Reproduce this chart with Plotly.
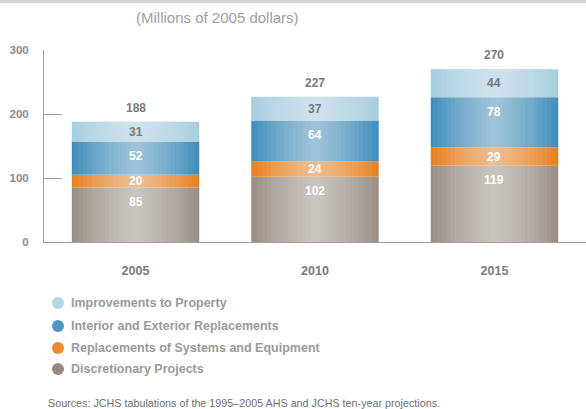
import plotly.graph_objects as go

years = ["2005", "2010", "2015"]
discretionary = [85, 102, 119]
systems = [20, 24, 29]
interior_exterior = [52, 64, 78]
improvements = [31, 37, 44]
totals = [188, 227, 270]

series_names = [
    "Improvements to Property",
    "Interior and Exterior Replacements",
    "Replacements of Systems and Equipment",
    "Discretionary Projects",
]
# edge tones of each segment; the centre is brightened by the sheen layers
edge_colors = {
    "Improvements to Property": "#a6cde0",
    "Interior and Exterior Replacements": "#3d8cba",
    "Replacements of Systems and Equipment": "#e67f1e",
    "Discretionary Projects": "#998e85",
}
legend_colors = {
    "Improvements to Property": "#b4d6e6",
    "Interior and Exterior Replacements": "#4a97c2",
    "Replacements of Systems and Equipment": "#ec8a30",
    "Discretionary Projects": "#968b82",
}

FONT = "Liberation Sans"
W, H = 586, 409
L, R, T, B = 44, 0, 50, 167
PW, PH = W - L - R, H - T - B
BAR_W = 0.71


def px_x(px):
    return (px - L) / PW


def px_y(py):
    return (H - B - py) / PH


fig = go.Figure()
annotations = []

stack = [
    ("Discretionary Projects", discretionary, "#ffffff", "top"),
    ("Replacements of Systems and Equipment", systems, "#ffffff", "mid"),
    ("Interior and Exterior Replacements", interior_exterior, "#ffffff", "top"),
    ("Improvements to Property", improvements, "#7a7a7a", "mid"),
]
base = [0] * len(years)
for name, vals, tcol, anchor in stack:
    fig.add_trace(go.Bar(
        x=list(range(len(years))), y=vals, base=list(base), name=name,
        width=BAR_W, showlegend=False,
        marker=dict(color=edge_colors[name], line=dict(width=0)),
        hoverinfo="skip",
    ))
    for i, v in enumerate(vals):
        if anchor == "top":
            y, shift = base[i] + v, -14.5
        else:
            y, shift = base[i] + v / 2, 0
        annotations.append(dict(
            x=i, y=y, xref="x", yref="y", text=str(v), showarrow=False,
            yanchor="middle", yshift=shift,
            font=dict(family=FONT, size=12, color=tcol, weight="bold"),
        ))
    base = [b + v for b, v in zip(base, vals)]

# soft horizontal sheen over each full column
n_layers = 14
for k in range(n_layers):
    fig.add_trace(go.Bar(
        x=list(range(len(years))), y=totals, base=0,
        width=BAR_W * (n_layers - k) / (n_layers + 0.5),
        marker=dict(color="rgba(255,255,255,0.05)", line=dict(width=0)),
        showlegend=False, hoverinfo="skip",
    ))

# totals above each stack
for i, tot in enumerate(totals):
    annotations.append(dict(
        x=i, y=tot, xref="x", yref="y", text=str(tot), showarrow=False,
        yanchor="middle", yshift=14,
        font=dict(family=FONT, size=12, color="#7a7a7a", weight="bold"),
    ))

# legend: circles with labels
shapes = [dict(type="rect", xref="paper", yref="paper",
               x0=px_x(0), x1=1.0, y0=px_y(3), y1=px_y(-5),
               fillcolor="#d4d4d4", line=dict(width=0), layer="above")]
legend_rows = [303, 326, 348, 369]
for name, py in zip(series_names, legend_rows):
    shapes.append(dict(
        type="circle", xref="paper", yref="paper",
        xsizemode="pixel", ysizemode="pixel",
        xanchor=px_x(58), yanchor=px_y(py),
        x0=-6, x1=6, y0=-6, y1=6,
        fillcolor=legend_colors[name], line=dict(width=0),
    ))
    annotations.append(dict(
        text=name, xref="paper", yref="paper", x=px_x(69), y=px_y(py),
        xanchor="left", yanchor="middle", showarrow=False,
        font=dict(family=FONT, size=12.5, color="#9a9a9a", weight="bold"),
    ))

annotations += [
    dict(text="(Millions of 2005 dollars)", xref="paper", yref="paper",
         x=px_x(217), y=px_y(17), xanchor="center", yanchor="middle",
         showarrow=False, font=dict(family=FONT, size=15, color="#a0a0a0")),
    dict(text="Sources: JCHS tabulations of the 1995\u20132005 AHS and JCHS ten-year projections.",
         xref="paper", yref="paper", x=px_x(46), y=px_y(403),
         xanchor="left", yanchor="middle", showarrow=False,
         font=dict(family=FONT, size=10.75, color="#707070")),
]

fig.update_layout(
    width=W, height=H,
    margin=dict(l=L, r=R, t=T, b=B),
    paper_bgcolor="white", plot_bgcolor="white",
    barmode="overlay",
    font=dict(family=FONT, color="#8a8a8a"),
    showlegend=False,
    xaxis=dict(
        range=[-0.51, 2.51], showgrid=False, showline=True,
        linecolor="#a0a0a0", linewidth=1, ticks="",
        tickvals=list(range(len(years))), ticktext=years,
        ticklabelstandoff=17, zeroline=False,
        tickfont=dict(family=FONT, size=12.5, color="#7a7a7a", weight="bold"),
    ),
    yaxis=dict(
        range=[0, 300], tickvals=[0, 100, 200, 300], showgrid=False,
        showline=True, linecolor="#a0a0a0", linewidth=1,
        ticks="inside", ticklen=18, tickcolor="#a0a0a0", tickwidth=1,
        ticklabelstandoff=12, zeroline=False,
        tickfont=dict(family=FONT, size=11.5, color="#8a8a8a", weight="bold"),
    ),
    shapes=shapes,
    annotations=annotations,
)

fig.write_html("out.html")
